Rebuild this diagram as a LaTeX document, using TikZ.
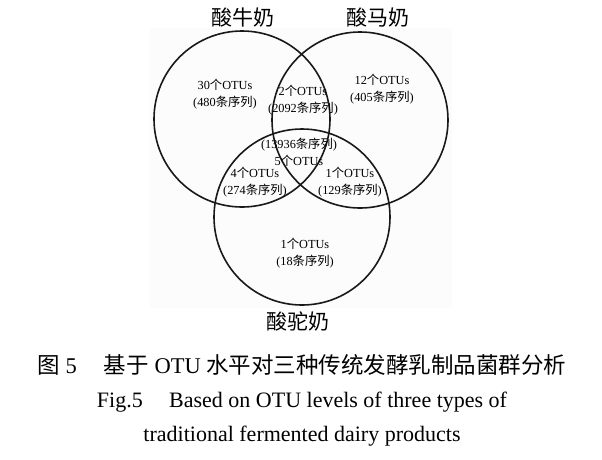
\documentclass[tikz,border=0pt]{standalone}
\usepackage{fontspec}
\setmainfont{Liberation Serif}
\newfontfamily\cjk{Noto Sans CJK SC}
\usetikzlibrary{positioning}
\newcommand{\zh}[1]{{\cjk #1}}
\tikzset{
  venn/.style={circle, draw=black!90, line width=1.6pt, minimum size=176pt, inner sep=0pt},
  setname/.style={font=\cjk\fontsize{21}{23}\selectfont, inner sep=0pt},
  region/.style={align=center, font=\fontsize{12.3}{17}\selectfont, inner sep=0pt},
  caption/.style={font=\fontsize{22}{24}\selectfont, inner sep=0pt}
}

\begin{document}
\begin{tikzpicture}[x=1pt, y=-1pt]
    \useasboundingbox (0,0) rectangle (602,459);
    % faint panel of the figure
    \fill[black!1] (150,28) rectangle (452,308);

    % circles
    \node[venn] (cow)   at (242,119) {};
    \node[venn] (mare)  at (360,120) {};
    \node[venn] (camel) at (302,217) {};

    % set names
    \node[setname] (cowname)   at (243,18)  {酸牛奶};
    \node[setname] (marename)  at (378,18)  {酸马奶};
    \node[setname] (camelname) at (298,321) {酸驼奶};

    % counts in each region
    \node[region] (onlycow)   at (225,94)  {30\zh{个}OTUs\\(480\zh{条序列})};
    \node[region] (onlymare)  at (382,89)  {12\zh{个}OTUs\\(405\zh{条序列})};
    \node[region] (cowmare)   at (303,100) {2\zh{个}OTUs\\(2092\zh{条序列})};
    \node[region] (allthree)  at (299,152) {(13936\zh{条序列})\\5\zh{个}OTUs};
    \node[region] (cowcamel)  at (255,182) {4\zh{个}OTUs\\(274\zh{条序列})};
    \node[region] (marecamel) at (350,182) {1\zh{个}OTUs\\(129\zh{条序列})};
    \node[region] (onlycamel) at (305,253) {1\zh{个}OTUs\\(18\zh{条序列})};

    % caption
    \node[caption, font=\fontsize{22.5}{24}\selectfont] (capzh) at (302,365) {\zh{图} 5\hspace{1.2em}\zh{基于} OTU \zh{水平对三种传统发酵乳制品菌群分析}};
    \node[caption] (capen) at (302,402) {Fig.5\hspace{1.2em}Based on OTU levels of three types of};
    \node[caption] (capen2) at (302,436) {traditional fermented dairy products};
\end{tikzpicture}
\end{document}
